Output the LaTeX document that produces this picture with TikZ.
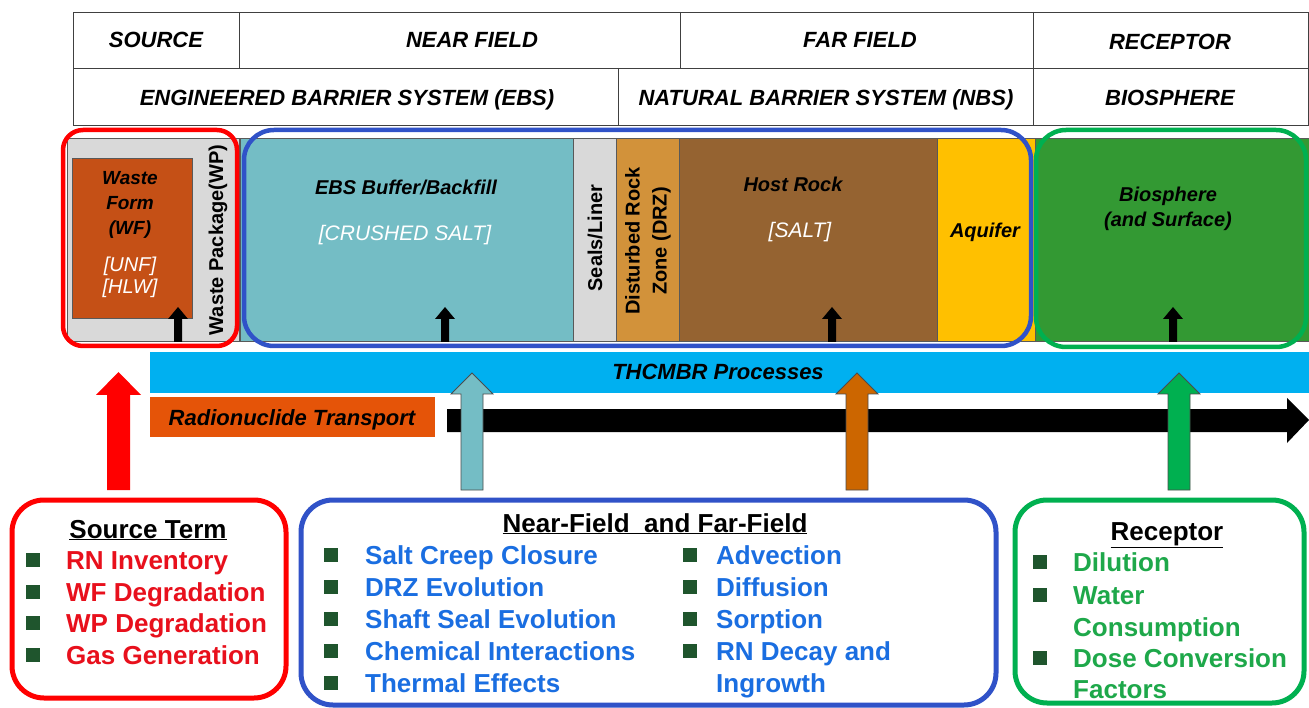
\documentclass[tikz,border=0pt]{standalone}
\usepackage{fontspec}
\setmainfont{Liberation Sans}
\definecolor{wpgray}{RGB}{217,217,217}
\definecolor{wfcol}{RGB}{197,80,22}
\definecolor{teal}{RGB}{116,189,197}
\definecolor{drz}{RGB}{210,146,58}
\definecolor{host}{RGB}{149,99,49}
\definecolor{aquif}{RGB}{255,192,0}
\definecolor{bio}{RGB}{51,153,51}
\definecolor{thc}{RGB}{0,176,240}
\definecolor{rnt}{RGB}{229,84,8}
\definecolor{redB}{RGB}{255,0,0}
\definecolor{blueB}{RGB}{48,82,200}
\definecolor{greenB}{RGB}{0,176,80}
\definecolor{orangeA}{RGB}{204,102,0}
\definecolor{redT}{RGB}{232,16,28}
\definecolor{blueT}{RGB}{26,110,225}
\definecolor{greenT}{RGB}{30,168,74}
\definecolor{bulgreen}{RGB}{31,85,45}
\newcommand\smallup[1]{\fill[black] ({#1-4},342)--({#1-4},319)--({#1-10},319)--(#1,307)--({#1+10},319)--({#1+4},319)--({#1+4},342)--cycle;}
\newcommand\blockup[3]{\filldraw[fill=#2,draw=#3,line width=0.8pt] ({#1-11},490)--({#1-11},394)--({#1-21},394)--(#1,373)--({#1+21},394)--({#1+11},394)--({#1+11},490)--cycle;}
\begin{document}
\begin{tikzpicture}[x=1pt,y=-1pt,
  hdr/.style={font=\fontsize{22}{24}\selectfont\bfseries\itshape, inner sep=0, anchor=base},
  lab/.style={font=\fontsize{20}{25}\selectfont\bfseries\itshape, inner sep=0, align=center},
  wlab/.style={font=\fontsize{21}{22}\selectfont\itshape, text=white, inner sep=0, align=center},
  vlab/.style={font=\fontsize{20}{27}\selectfont\bfseries, rotate=90, inner sep=0, align=center},
  cell/.style={draw=black!75, line width=0.8pt},
  comp/.style={draw=black!65, line width=0.8pt},
  ring/.style={line width=4.5pt},
  lbox/.style={line width=5pt, rounded corners=32pt},
  ttl/.style={font=\fontsize{26}{28}\selectfont\bfseries, inner sep=0, anchor=base},
  item/.style={font=\fontsize{26}{28}\selectfont\bfseries, inner sep=0, anchor=base west},
  bul/.style={fill=bulgreen, minimum size=14pt, inner sep=0},
]
\useasboundingbox (0,0) rectangle (1309,708);
\fill[white] (0,0) rectangle (1309,708);

% ---------- header table ----------
\draw[cell] (73,12) rectangle (1308.5,125);
\draw[cell] (73,68) -- (1308.5,68);
\draw[cell] (239,12) -- (239,68);
\draw[cell] (680,12) -- (680,68);
\draw[cell] (1033,12) -- (1033,125);
\draw[cell] (618,68) -- (618,125);
\node[hdr] (hsrc) at (156,48) {SOURCE};
\node[hdr] (hnear) at (472,48) {NEAR FIELD};
\node[hdr] (hfar) at (860,48) {FAR FIELD};
\node[hdr] (hrec) at (1170,50) {RECEPTOR};
\node[hdr] (hebs) at (347,106) {ENGINEERED BARRIER SYSTEM (EBS)};
\node[hdr] (hnbs) at (826,106) {NATURAL BARRIER SYSTEM (NBS)};
\node[hdr] (hbio) at (1170,106) {BIOSPHERE};

% ---------- component strip ----------
\filldraw[comp, fill=wpgray] (67,138) rectangle (239,341);
\filldraw[comp, fill=wfcol] (72,158) rectangle (192,318);
\filldraw[comp, fill=teal] (240,138) rectangle (573,341);
\filldraw[comp, fill=wpgray] (573,138) rectangle (616,341);
\filldraw[comp, fill=drz] (616,138) rectangle (679,341);
\filldraw[comp, fill=host] (679,138) rectangle (937,341);
\filldraw[comp, fill=aquif] (937,138) rectangle (1035,341);
\filldraw[comp, fill=bio] (1035,138) rectangle (1310,341);

\node[lab, font=\fontsize{19}{25}\selectfont\bfseries\itshape] (wf) at (130,205) {Waste\\Form\\(WF)};
\node[wlab, font=\fontsize{20}{22}\selectfont\itshape] (unf) at (130,277) {{[UNF]}\\{[HLW]}};
\node[vlab] (wp) at (218,240) {Waste Package(WP)};
\node[lab] (ebs) at (406,187) {EBS Buffer/Backfill};
\node[wlab] (crs) at (405,235) {{[CRUSHED SALT]}};
\node[vlab] (seal) at (595,238) {Seals/Liner};
\node[vlab] (drzl) at (648,241) {Disturbed Rock\\Zone (DRZ)};
\node[lab] (hr) at (793,184) {Host Rock};
\node[wlab] (salt) at (800,232) {{[SALT]}};
\node[lab] (aq) at (985,232) {Aquifer};
\node[lab] (bs) at (1168,209) {Biosphere\\(and Surface)};

\smallup{178}
\smallup{445}
\smallup{832}
\smallup{1173}

\draw[ring, redB, rounded corners=20pt] (63,130) rectangle (237,346);
\draw[ring, blueB, rounded corners=30pt] (244,130) rectangle (1031,346);
\draw[ring, greenB, rounded corners=30pt] (1036,130) rectangle (1306,347);

% ---------- process bars ----------
\fill[thc] (150,352) rectangle (1309,393);
\node[hdr] (thcl) at (718,380) {THCMBR Processes};
\fill[rnt] (150,397) rectangle (435,437);
\node[hdr] (rntl) at (292,425) {Radionuclide Transport};
\fill[black] (447,409) -- (1287,409) -- (1287,398) -- (1309,420) -- (1287,443) -- (1287,432) -- (447,432) -- cycle;

% ---------- up arrows ----------
\fill[redB] (107,490)--(107,395)--(96,395)--(118.5,372)--(141,395)--(130,395)--(130,490)--cycle;
\blockup{472}{teal}{black!70}
\blockup{857}{orangeA}{black!70}
\blockup{1179}{greenB}{black!70}

% ---------- bottom boxes ----------
\draw[lbox, redB] (12,500) rectangle (286,698);
\node[ttl] (st) at (148,538) {\underline{Source Term}};
\foreach \y/\t [count=\i] in {560/RN Inventory, 592/WF Degradation, 623/WP Degradation, 655/Gas Generation}{
  \node[bul] (sb\i) at (33,\y) {};
  \node[item, text=redT] (si\i) at (66,\y+9) {\t};
}

\draw[lbox, blueB] (301,500) rectangle (996,705);
\node[ttl] (nf) at (655,532) {\underline{Near-Field\ \ and Far-Field}};
\foreach \y/\t [count=\i] in {555/Salt Creep Closure, 587/DRZ Evolution, 619/Shaft Seal Evolution, 651/Chemical Interactions, 683/Thermal Effects}{
  \node[bul] (nb\i) at (331,\y) {};
  \node[item, text=blueT] (ni\i) at (365,\y+9) {\t};
}
\foreach \y/\t [count=\i] in {555/Advection, 587/Diffusion, 619/Sorption, 651/RN Decay and}{
  \node[bul] (fb\i) at (690,\y) {};
  \node[item, text=blueT] (fi\i) at (716,\y+9) {\t};
}
\node[item, text=blueT] (fi5) at (716,692) {Ingrowth};

\draw[lbox, greenB] (1015,500) rectangle (1304,703);
\node[ttl] (rc) at (1167,540) {\underline{Receptor}};
\node[bul] (rb1) at (1040,562) {};
\node[item, text=greenT] (ri1) at (1073,571) {Dilution};
\node[bul] (rb2) at (1040,595) {};
\node[item, text=greenT] (ri2) at (1073,604) {Water};
\node[item, text=greenT] (ri3) at (1073,636) {Consumption};
\node[bul] (rb3) at (1040,658) {};
\node[item, text=greenT] (ri4) at (1073,667) {Dose Conversion};
\node[item, text=greenT] (ri5) at (1073,698) {Factors};
\end{tikzpicture}
\end{document}
